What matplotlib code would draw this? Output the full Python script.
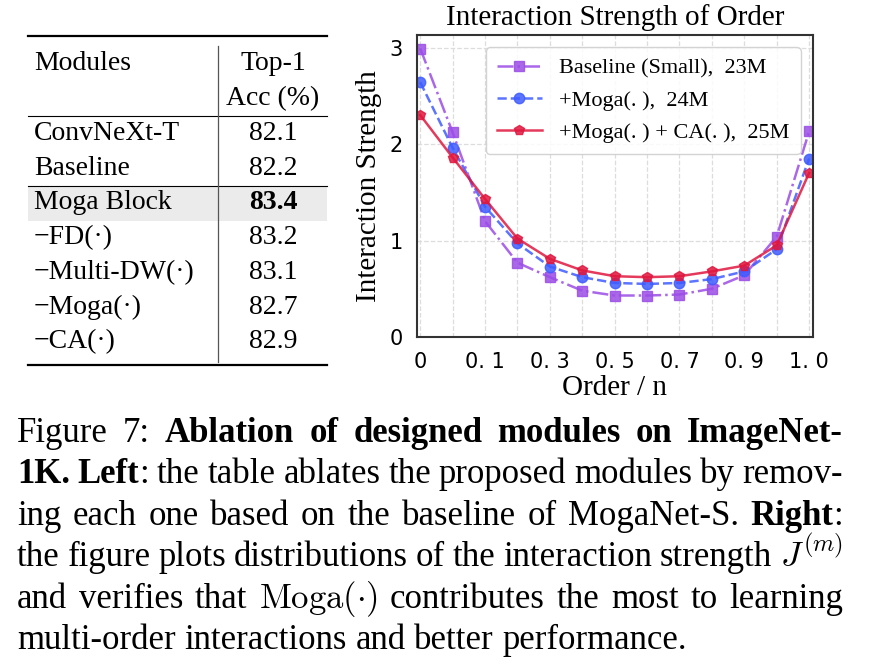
import numpy as np
import matplotlib
matplotlib.use("Agg")
import matplotlib.pyplot as plt
from matplotlib.patches import Rectangle

plt.rcParams["font.family"] = ["Liberation Serif", "DejaVu Serif"]
plt.rcParams["mathtext.fontset"] = "cm"

# ---- table data ----
header_left = "Modules"
header_right = ["Top-1", "Acc (%)"]
modules = ["ConvNeXt-T", "Baseline", "Moga Block", "−FD(·)", "−Multi-DW(·)", "−Moga(·)", "−CA(·)"]
top1_acc = [82.1, 82.2, 83.4, 83.2, 83.1, 82.7, 82.9]
best_row = 2

# ---- chart data ----
orders = list(range(13))
order_ticks = [0, 2, 4, 6, 8, 10, 12]
order_labels = ["0", "0. 1", "0. 3", "0. 5", "0. 7", "0. 9", "1. 0"]
baseline_small = [2.99, 2.12, 1.20, 0.77, 0.62, 0.48, 0.43, 0.43, 0.44, 0.50, 0.64, 1.04, 2.13]
plus_moga = [2.64, 1.96, 1.35, 0.97, 0.73, 0.62, 0.56, 0.55, 0.56, 0.60, 0.68, 0.91, 1.85]
plus_moga_ca = [2.30, 1.86, 1.43, 1.02, 0.81, 0.69, 0.63, 0.62, 0.63, 0.68, 0.74, 0.95, 1.70]
series_labels = ["Baseline (Small),  23M", "+Moga(. ),  24M", "+Moga(. ) + CA(. ),  25M"]

# ---- caption (* toggles bold) ----
caption_lines = [
    "Figure 7: *Ablation of designed modules on ImageNet-",
    "1K. Left*: the table ablates the proposed modules by remov-",
    "ing each one based on the baseline of MogaNet-S. *Right*:",
    "the figure plots distributions of the interaction strength $J^{(m)}$",
    r"and verifies that $\mathrm{Moga}(\cdot)$ contributes the most to learning",
    "multi-order interactions and better performance.",
]

W, H = 873, 665
fig = plt.figure(figsize=(W / 100, H / 100), dpi=100)

# background axes in pixel units for table and caption
bg = fig.add_axes([0, 0, 1, 1])
bg.set_xlim(0, W)
bg.set_ylim(H, 0)
bg.axis("off")

# table
tab_left, tab_right, col_split = 28, 327, 218
row_base = [140 + 34.7 * i for i in range(len(modules))]
bg.add_patch(Rectangle((tab_left, 186), tab_right - tab_left, 35, color="#ebebeb", lw=0, zorder=0))
bg.plot([tab_left, tab_right], [36, 36], color="black", lw=1.6)
bg.plot([tab_left, tab_right], [116, 116], color="black", lw=0.8)
bg.plot([tab_left, tab_right], [186, 186], color="black", lw=0.8)
bg.plot([tab_left, tab_right], [365, 365], color="black", lw=1.6)
bg.plot([col_split, col_split], [46, 362], color="#555555", lw=0.9)

tfs = 20
bg.text(34, 70, header_left, fontsize=tfs, va="baseline", ha="left")
bg.text(273, 70, header_right[0], fontsize=tfs, va="baseline", ha="center")
bg.text(273, 105, header_right[1], fontsize=tfs, va="baseline", ha="center")
for i, (name, acc) in enumerate(zip(modules, top1_acc)):
    bg.text(34, row_base[i], name, fontsize=tfs, va="baseline", ha="left")
    bg.text(273, row_base[i], f"{acc:.1f}", fontsize=tfs, va="baseline", ha="center",
            fontweight="bold" if i == best_row else "normal")

# chart
ax = fig.add_axes([417 / W, 1 - 337 / H, 396 / W, 302 / H])
styles = [
    dict(color="#9b4de6", ls="-.", marker="s"),
    dict(color="#3f5cff", ls="--", marker="o"),
    dict(color="#e0173f", ls="-", marker="p"),
]
for vals, lab, st in zip([baseline_small, plus_moga, plus_moga_ca], series_labels, styles):
    ax.plot(orders, vals, label=lab, lw=1.8, markersize=7.5, alpha=0.85, **st)

ax.set_xlim(-0.1, 12.12)
ax.set_ylim(0.03, 3.13)
ax.set_xticks(order_ticks)
ax.set_xticklabels(order_labels, family="DejaVu Sans")
ax.set_xticks(orders, minor=True)
ax.set_yticks([0, 1, 2, 3])
ax.set_yticklabels(["0", "1", "2", "3"], family="DejaVu Sans")
ax.tick_params(axis="both", which="both", length=0, labelsize=15)
ax.tick_params(axis="x", pad=11)
ax.tick_params(axis="y", pad=10)
ax.grid(True, which="both", axis="x", color="#dddddd", ls="--", lw=0.9)
ax.grid(True, which="major", axis="y", color="#dddddd", ls="--", lw=0.9)
for sp in ax.spines.values():
    sp.set_color("#333333")
    sp.set_linewidth(1.5)
ax.set_title("Interaction Strength of Order", fontsize=21, pad=7)
ax.set_xlabel("Order / n", fontsize=21, labelpad=2)
ax.set_ylabel("Interaction Strength", fontsize=21, labelpad=6)
ax.legend(loc="upper right", fontsize=16, numpoints=1, framealpha=0.85,
          edgecolor="#cccccc", borderaxespad=0.55, labelspacing=0.52, borderpad=0.5)

# caption, justified like the paper
cfs = 25
cap_left, cap_right = 17, 843
cap_base = [442 + 41.4 * i for i in range(len(caption_lines))]
fig.canvas.draw()
renderer = fig.canvas.get_renderer()
bold = False
for li, line in enumerate(caption_lines):
    words = []
    for word in line.split(" "):
        parts = word.split("*")
        segs = []
        for k, p in enumerate(parts):
            if k > 0:
                bold = not bold
            if p:
                segs.append((p, bold))
        words.append(segs)
    placed = []
    total = 0
    for segs in words:
        wtexts = []
        for txt, b in segs:
            t = bg.text(0, cap_base[li], txt, fontsize=cfs, va="baseline", ha="left",
                        fontweight="bold" if b else "normal")
            w = t.get_window_extent(renderer).width
            wtexts.append((t, w))
            total += w
        placed.append(wtexts)
    if li < len(caption_lines) - 1:
        gap = (cap_right - cap_left - total) / (len(placed) - 1)
    else:
        gap = cfs * 100 / 72 * 0.25
    x = cap_left
    for wtexts in placed:
        for t, w in wtexts:
            t.set_x(x)
            x += w
        x += gap

fig.savefig("out.png", dpi=100)
